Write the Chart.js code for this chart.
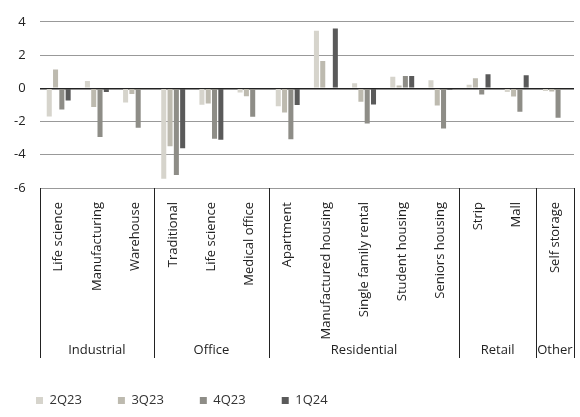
<!DOCTYPE html>
<html>
<head>
<meta charset="utf-8">
<script src="https://cdn.jsdelivr.net/npm/chart.js@4.4.1/dist/chart.umd.min.js"></script>
<style>
  html, body { margin: 0; padding: 0; background: #fff; }
  #wrap { width: 580px; height: 417px; }
</style>
</head>
<body>
<div id="wrap"><canvas id="chart"></canvas></div>
<script>
// Categories and groups
const categories = ['Life science', 'Manufacturing', 'Warehouse', 'Traditional', 'Life science',
    'Medical office', 'Apartment', 'Manufactured housing', 'Single family rental', 'Student housing',
    'Seniors housing', 'Strip', 'Mall', 'Self storage'];
const groups = [
    { name: 'Industrial', from: 0, to: 2 },
    { name: 'Office', from: 3, to: 5 },
    { name: 'Residential', from: 6, to: 10 },
    { name: 'Retail', from: 11, to: 12 },
    { name: 'Other', from: 13, to: 13 }
];

// Series values
const q2_23 = [-1.7, 0.44, -0.86, -5.45, -0.99, -0.25, -1.08, 3.46, 0.3, 0.69, 0.48, 0.21, -0.23, -0.16];
const q3_23 = [1.13, -1.12, -0.35, -3.49, -0.92, -0.48, -1.45, 1.64, -0.81, 0.16, -1.04, 0.6, -0.49, -0.19];
const q4_23 = [-1.27, -2.93, -2.37, -5.22, -3.03, -1.71, -3.07, 0, -2.12, 0.74, -2.42, -0.37, -1.41, -1.78];
const q1_24 = [-0.74, -0.23, 0, -3.61, -3.1, 0, -1.0, 3.6, -0.97, 0.74, -0.09, 0.85, 0.79, 0];
const yTicks = [4, 2, 0, -2, -4, -6];

// Draw group separators and group names under the category labels
const groupPlugin = {
    id: 'groupPlugin',
    afterDraw(chart) {
        const ctx = chart.ctx;
        const x = chart.scales.x;
        const area = chart.chartArea;
        const top = area.bottom;
        const bottom = x.bottom;
        const half = (x.getPixelForValue(1) - x.getPixelForValue(0)) / 2;
        ctx.save();
        ctx.strokeStyle = '#222';
        ctx.lineWidth = 1;
        const edges = [area.left];
        groups.forEach(g => edges.push(x.getPixelForValue(g.to) + half));
        edges[edges.length - 1] = area.right;
        edges.forEach(px => {
            ctx.beginPath();
            ctx.moveTo(Math.round(px) + 0.5, top);
            ctx.lineTo(Math.round(px) + 0.5, bottom);
            ctx.stroke();
        });
        ctx.fillStyle = '#222';
        ctx.font = '13px "Open Sans", "Noto Sans", sans-serif';
        ctx.textAlign = 'center';
        ctx.textBaseline = 'middle';
        groups.forEach(g => {
            const cx = (x.getPixelForValue(g.from) + x.getPixelForValue(g.to)) / 2;
            ctx.fillText(g.name, cx, bottom - 8);
        });
        ctx.restore();
    }
};

const font = { family: '"Open Sans", "Noto Sans", sans-serif', size: 13 };

new Chart(document.getElementById('chart'), {
    type: 'bar',
    data: {
        labels: categories,
        datasets: [
            { label: '2Q23', data: q2_23, backgroundColor: '#d6d4cc' },
            { label: '3Q23', data: q3_23, backgroundColor: '#bdbaaf' },
            { label: '4Q23', data: q4_23, backgroundColor: '#8e8d87' },
            { label: '1Q24', data: q1_24, backgroundColor: '#5a5a5a' }
        ]
    },
    options: {
        responsive: true,
        maintainAspectRatio: false,
        animation: false,
        layout: { padding: { top: 0, right: 6, left: 0, bottom: 0 } },
        datasets: { bar: { categoryPercentage: 0.66, barPercentage: 0.8 } },
        plugins: {
            legend: {
                position: 'bottom',
                align: 'start',
                labels: {
                    color: '#333',
                    font: font,
                    boxWidth: 7,
                    boxHeight: 7,
                    padding: 36
                }
            },
            tooltip: { enabled: false }
        },
        scales: {
            x: {
                grid: { display: false },
                border: { display: false },
                ticks: {
                    color: '#222',
                    font: font,
                    minRotation: 90,
                    maxRotation: 90,
                    autoSkip: false,
                    padding: 6
                },
                afterFit(scale) { scale.height = 170; }
            },
            y: {
                min: -6,
                max: 4,
                afterBuildTicks(scale) { scale.ticks = yTicks.map(v => ({ value: v })); },
                grid: {
                    color: ctx => ctx.tick && ctx.tick.value === 0 ? '#222' : '#999',
                    lineWidth: ctx => ctx.tick && ctx.tick.value === 0 ? 1.5 : 1,
                    drawTicks: false
                },
                border: { display: false },
                ticks: { color: '#222', font: font, padding: 14 }
            }
        }
    },
    plugins: [groupPlugin]
});
</script>
</body>
</html>
